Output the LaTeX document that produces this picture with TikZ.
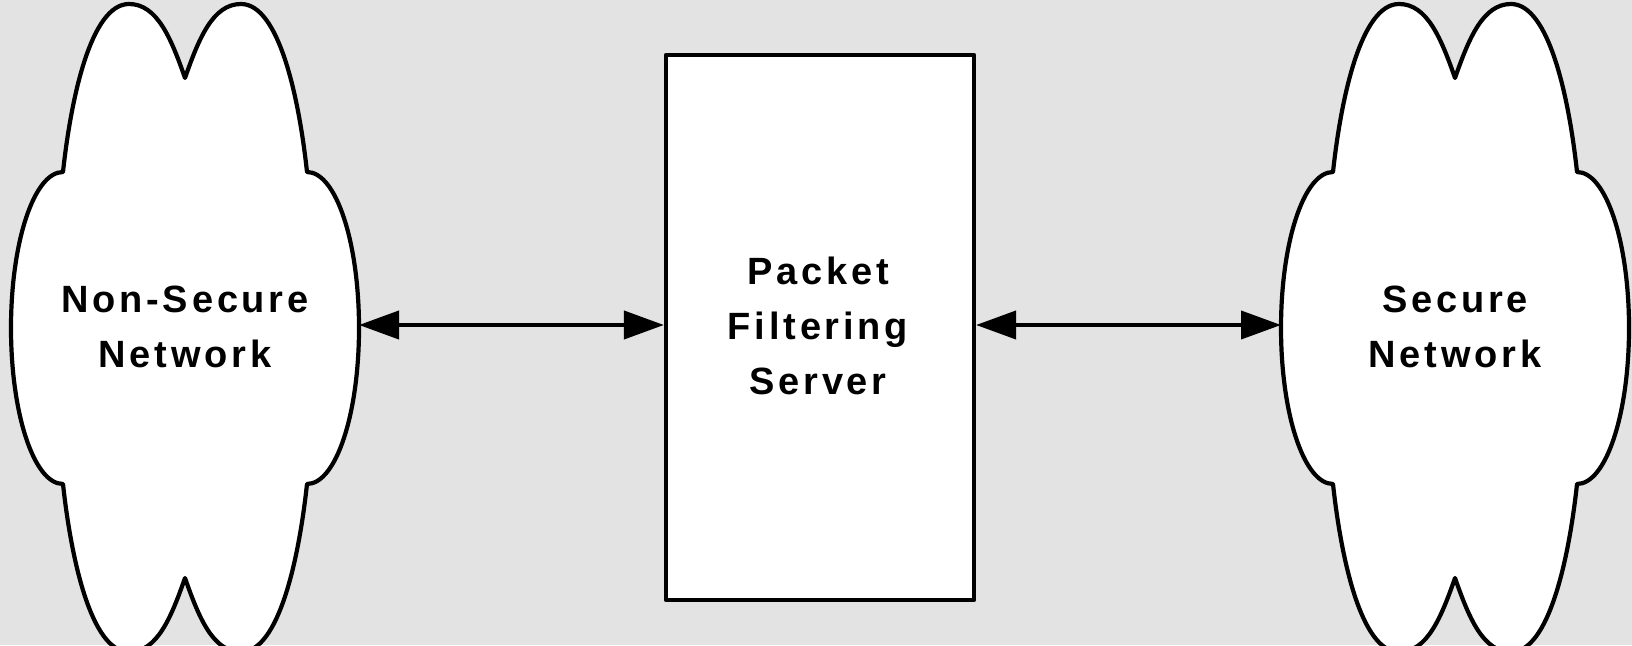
\documentclass[tikz,border=0pt]{standalone}
\usepackage{fontspec}
\setmainfont{Liberation Sans}
\newfontfamily\lblfont[LetterSpace=10]{Liberation Sans}
\usetikzlibrary{arrows.meta}
\definecolor{bg}{RGB}{227,227,227}
\tikzset{
  outline/.style={line width=4.2pt, draw=black, fill=white, line join=round},
  lbl/.style={align=center, font=\lblfont\bfseries\fontsize{38}{55}\selectfont, inner sep=0pt},
  arr/.style={line width=4pt, {Triangle[length=40pt,width=28pt]}-{Triangle[length=40pt,width=28pt]}},
  cloudshape/.pic={
    \path[outline] (0,250) .. controls (14,290) and (28,324) .. (56,324)
      .. controls (94,324) and (114,230) .. (122,156)
      .. controls (151,156) and (174,86) .. (174,0)
      .. controls (174,-86) and (151,-156) .. (122,-156)
      .. controls (114,-230) and (94,-324) .. (56,-324)
      .. controls (28,-324) and (14,-290) .. (0,-250)
      .. controls (-14,-290) and (-28,-324) .. (-56,-324)
      .. controls (-94,-324) and (-114,-230) .. (-122,-156)
      .. controls (-151,-156) and (-174,-86) .. (-174,0)
      .. controls (-174,86) and (-151,156) .. (-122,156)
      .. controls (-114,230) and (-94,324) .. (-56,324)
      .. controls (-28,324) and (-14,290) .. (0,250) -- cycle;
  }
}
\begin{document}
\begin{tikzpicture}[x=1pt,y=1pt]
\fill[bg] (0,0) rectangle (1632,645);
\useasboundingbox (0,0) rectangle (1632,645);
% clouds
\pic at (185,317) {cloudshape};
\pic at (1455,317) {cloudshape};
\coordinate (lcE) at (359,320);
\coordinate (rcW) at (1281,320);
\node[lbl] (lc) at (185,318) {Non-Secure\\Network};
\node[lbl] (rc) at (1455,318) {Secure\\Network};
% box
\node[outline, minimum width=308pt, minimum height=545pt, inner sep=0pt] (box) at (820,317.5) {};
\node[lbl] (bt) at (818,319) {Packet\\Filtering\\Server};
% arrows
\draw[arr] (lcE) -- (lcE -| box.west);
\draw[arr] (box.east |- rcW) -- (rcW);
\end{tikzpicture}
\end{document}
